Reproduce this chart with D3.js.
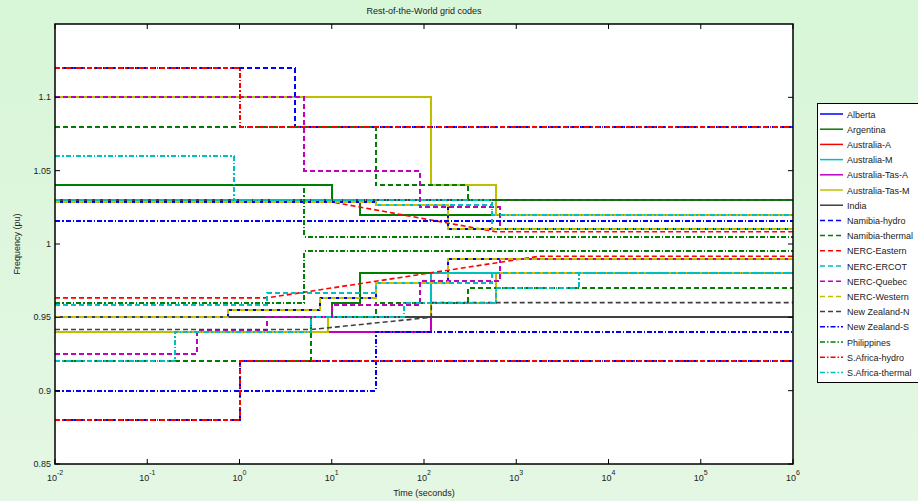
<!DOCTYPE html>
<html lang="en">
<head>
<meta charset="utf-8">
<title>Rest-of-the-World grid codes</title>
<script src="https://d3js.org/d3.v7.min.js"></script>
<style>
  body { margin: 0; background: #dcf6dc; }
  text { font-family: "Liberation Sans", Arial, sans-serif; fill: #222; }
</style>
</head>
<body>
<script>
// breakpoints [time s, frequency pu]; step series hold the value until the next breakpoint
const alberta_up = [[0.01, 1.0283], [30, 1.0267], [180, 1.01]];
const alberta_lo = [[0.01, 0.95], [0.75, 0.955], [7.5, 0.9633], [30, 0.9733], [180, 0.99]];
const argentina_up = [[0.01, 1.04], [10, 1.03], [20, 1.02]];
const argentina_lo = [[0.01, 0.95], [10, 0.96], [20, 0.98]];
const ausA_up = [[0.01, 1.03], [600, 1.02]];
const ausA_lo = [[0.01, 0.94], [6, 0.95], [120, 0.98]];
const ausM_up = [[0.01, 1.03], [600, 1.02]];
const ausM_lo = [[0.01, 0.94], [6, 0.95], [120, 0.98]];
const tasA_up = [[0.01, 1.1], [120, 1.04], [600, 1.02]];
const tasA_lo = [[0.01, 0.94], [120, 0.96], [600, 0.98]];
const tasM_up = [[0.01, 1.1], [120, 1.04], [600, 1.02]];
const tasM_lo = [[0.01, 0.94], [9, 0.95], [120, 0.96], [600, 0.98]];
const india_up = [[0.01, 1.03]];
const india_lo = [[0.01, 0.95]];
const namHydro_up = [[0.01, 1.12], [4, 1.08]];
const namHydro_lo = [[0.01, 0.88], [1, 0.92]];
const namTherm_up = [[0.01, 1.08], [30, 1.04], [300, 1.03]];
const namTherm_lo = [[0.01, 0.92], [6, 0.95], [30, 0.96], [300, 0.97]];
// these two are joined point to point (sloped parts)
const eastern_up = [[0.01, 1.03], [7.66, 1.03], [601, 1.00833], [1e6, 1.00833]];
const eastern_lo = [[0.01, 0.9633], [2, 0.9633], [1791, 0.99167], [1e6, 0.99167]];
const ercot_up = [[0.01, 1.03], [30, 1.0267], [540, 1.01]];
const ercot_lo = [[0.01, 0.9583], [2, 0.9667], [30, 0.9733], [540, 0.98]];
const quebec_up = [[0.01, 1.1], [5, 1.05], [90, 1.025], [660, 1.01]];
const quebec_lo = [[0.01, 0.925], [0.35, 0.9417], [2, 0.95], [10, 0.9583], [90, 0.975], [660, 0.99]];
const western_up = [[0.01, 1.0283], [30, 1.0267], [180, 1.01]];
const western_lo = [[0.01, 0.95], [0.75, 0.955], [7.5, 0.9633], [30, 0.9733], [180, 0.99]];
const nzN_up = [[0.01, 1.03]];
const nzN_lo = [[0.01, 0.9417], [6, 0.9417], [120, 0.95], [120, 0.96], [1e6, 0.96]];
const nzS_up = [[0.01, 1.0155]];
const nzS_lo = [[0.01, 0.9], [30, 0.94]];
const phil_up = [[0.01, 1.04], [5, 1.005]];
const phil_lo = [[0.01, 0.96], [5, 0.995]];
const saHydro_up = [[0.01, 1.12], [1, 1.08]];
const saHydro_lo = [[0.01, 0.88], [1, 0.92]];
const saTherm_up = [[0.01, 1.06], [0.87, 1.03], [550, 1.02]];
const saTherm_lo = [[0.01, 0.92], [0.2, 0.94], [6, 0.95], [60, 0.96], [600, 0.97], [4800, 0.98]];

const names = ["Alberta", "Argentina", "Australia-A", "Australia-M", "Australia-Tas-A", "Australia-Tas-M",
  "India", "Namibia-hydro", "Namibia-thermal", "NERC-Eastern", "NERC-ERCOT", "NERC-Quebec",
  "NERC-Western", "New Zealand-N", "New Zealand-S", "Philippines", "S.Africa-hydro", "S.Africa-thermal"];
const uppers = [alberta_up, argentina_up, ausA_up, ausM_up, tasA_up, tasM_up, india_up, namHydro_up,
  namTherm_up, eastern_up, ercot_up, quebec_up, western_up, nzN_up, nzS_up, phil_up, saHydro_up, saTherm_up];
const lowers = [alberta_lo, argentina_lo, ausA_lo, ausM_lo, tasA_lo, tasM_lo, india_lo, namHydro_lo,
  namTherm_lo, eastern_lo, ercot_lo, quebec_lo, western_lo, nzN_lo, nzS_lo, phil_lo, saHydro_lo, saTherm_lo];
const sloped = ["NERC-Eastern", "New Zealand-N"];

const xTicks = [-2, -1, 0, 1, 2, 3, 4, 5, 6];
const yTicks = [0.85, 0.9, 0.95, 1, 1.05, 1.1];

// styles
const colors = ["#0000ff", "#008000", "#ff0000", "#00bfbf", "#bf00bf", "#bfbf00", "#404040",
  "#0000ff", "#008000", "#ff0000", "#00bfbf", "#bf00bf", "#bfbf00", "#404040",
  "#0000ff", "#008000", "#ff0000", "#00bfbf"];
const dashes = names.map((d, i) => i < 7 ? null : (i < 14 ? "5,3" : "5,2,1.5,2"));

const W = 918, H = 501;
const L = 55, R = 793, T = 24, B = 464;
const tEnd = 1e6;

const svg = d3.select("body").append("svg").attr("width", W).attr("height", H);
const grad = svg.append("defs").append("linearGradient").attr("id", "bg")
  .attr("x1", 0).attr("y1", 0).attr("x2", 0).attr("y2", 1);
grad.append("stop").attr("offset", 0).attr("stop-color", "#d8f6d8");
grad.append("stop").attr("offset", 1).attr("stop-color", "#e4f7e4");
svg.append("rect").attr("width", W).attr("height", H).attr("fill", "url(#bg)");

const x = d3.scaleLog().domain([0.01, 1e6]).range([L, R]);
const y = d3.scaleLinear().domain([0.85, 1.15]).range([B, T]);

svg.append("rect").attr("x", L).attr("y", T).attr("width", R - L).attr("height", B - T).attr("fill", "#fff");

svg.append("clipPath").attr("id", "clip").append("rect")
  .attr("x", L).attr("y", T).attr("width", R - L).attr("height", B - T);

// step breakpoints -> vertices
function steps(pts) {
  const out = [];
  pts.forEach((p, i) => {
    if (i > 0) out.push([p[0], pts[i - 1][1]]);
    out.push(p);
  });
  out.push([tEnd, pts[pts.length - 1][1]]);
  return out;
}

const line = d3.line().x(d => x(d[0])).y(d => y(d[1]));
const plot = svg.append("g").attr("clip-path", "url(#clip)");

names.forEach((n, i) => {
  const slope = sloped.includes(n);
  [uppers[i], lowers[i]].forEach(b => {
    plot.append("path")
      .attr("d", line(slope ? b : steps(b)))
      .attr("fill", "none")
      .attr("stroke", colors[i])
      .attr("stroke-width", slope ? 1.6 : 2)
      .attr("shape-rendering", slope ? "auto" : "crispEdges")
      .attr("stroke-dasharray", dashes[i]);
  });
});

// frame and ticks
svg.append("rect").attr("x", L).attr("y", T).attr("width", R - L).attr("height", B - T)
  .attr("fill", "none").attr("stroke", "#000").attr("stroke-width", 1.5);

const ax = svg.append("g");
xTicks.forEach(e => {
  const px = x(Math.pow(10, e));
  ax.append("line").attr("x1", px).attr("x2", px).attr("y1", B).attr("y2", B - 5).attr("stroke", "#000");
  ax.append("line").attr("x1", px).attr("x2", px).attr("y1", T).attr("y2", T + 5).attr("stroke", "#000");
  const t = ax.append("text").attr("x", px).attr("y", 481).attr("text-anchor", "middle")
    .attr("font-size", 9).text("10");
  t.append("tspan").attr("dy", -6).attr("font-size", 7).text(e);
});
yTicks.forEach(v => {
  const py = y(v);
  ax.append("line").attr("x1", L).attr("x2", L + 5).attr("y1", py).attr("y2", py).attr("stroke", "#000");
  ax.append("line").attr("x1", R).attr("x2", R - 5).attr("y1", py).attr("y2", py).attr("stroke", "#000");
  ax.append("text").attr("x", L - 4).attr("y", py + 3).attr("text-anchor", "end")
    .attr("font-size", 9).text(v);
});

svg.append("text").attr("x", (L + R) / 2).attr("y", 14).attr("text-anchor", "middle")
  .attr("font-size", 9).text("Rest-of-the-World grid codes");
svg.append("text").attr("x", (L + R) / 2).attr("y", 496).attr("text-anchor", "middle")
  .attr("font-size", 9).text("Time (seconds)");
svg.append("text").attr("transform", "translate(20," + ((T + B) / 2) + ") rotate(-90)")
  .attr("text-anchor", "middle").attr("font-size", 9).text("Frequency (pu)");

// legend
const lg = svg.append("g");
lg.append("rect").attr("x", 817.5).attr("y", 103.5).attr("width", 140).attr("height", 279)
  .attr("fill", "#fff").attr("stroke", "#000");
names.forEach((n, i) => {
  const ly = 114 + i * 15.2;
  lg.append("line").attr("x1", 820).attr("x2", 843).attr("y1", ly).attr("y2", ly)
    .attr("stroke", colors[i]).attr("stroke-width", 1.5).attr("stroke-dasharray", dashes[i]);
  lg.append("text").attr("x", 847).attr("y", ly + 3.5).attr("font-size", 9).text(n);
});
</script>
</body>
</html>
